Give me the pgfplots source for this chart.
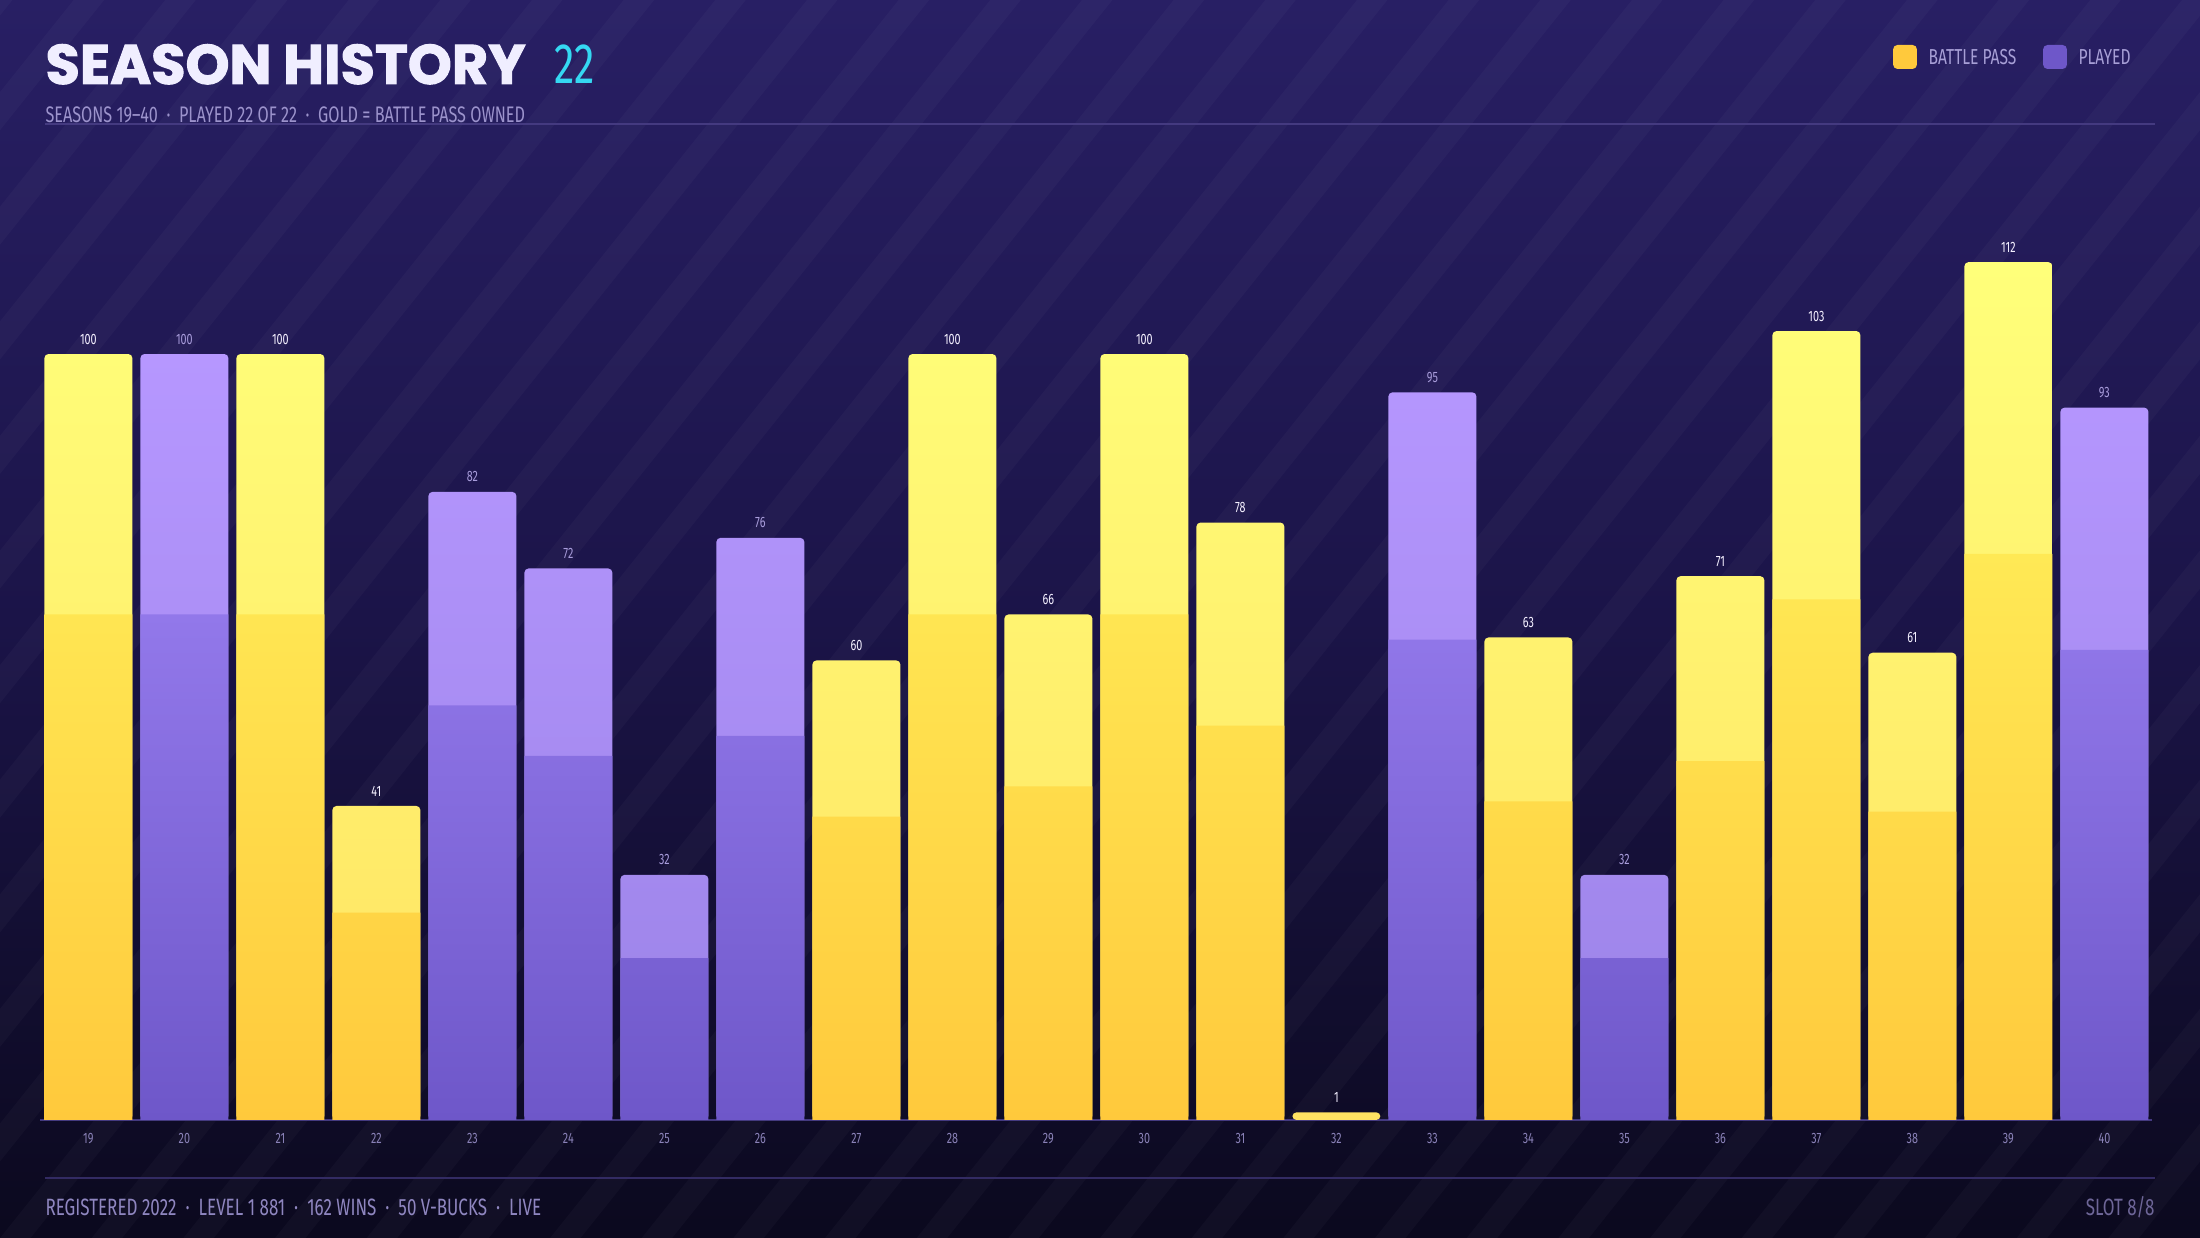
\documentclass[border=0pt]{standalone}
\usepackage{fontspec}
\setmainfont{Fira Sans}[FakeStretch=0.72]
\newfontfamily\titlefont{Poppins}[BoldFeatures={FakeBold=1.8}]
\usepackage{pgfplots}
\pgfplotsset{compat=1.18}
\definecolor{bgtop}{HTML}{281F64}
\definecolor{bgmid}{HTML}{1B1448}
\definecolor{bgbot}{HTML}{0B091E}
\definecolor{goldT}{HTML}{FFFF7A}
\definecolor{goldB}{HTML}{FFE262}
\definecolor{goldLT}{HTML}{FFE955}
\definecolor{goldLB}{HTML}{FFC93C}
\definecolor{purT}{HTML}{B697FF}
\definecolor{purB}{HTML}{9A82E6}
\definecolor{purLT}{HTML}{9278EA}
\definecolor{purLB}{HTML}{6E57C9}
\definecolor{titlec}{HTML}{F0EEFF}
\definecolor{cyanc}{HTML}{35D8F2}
\definecolor{subc}{HTML}{9C93CC}
\definecolor{tickc}{HTML}{8A82B8}
\definecolor{linec}{HTML}{443A80}
\definecolor{footc}{HTML}{8F86C0}
\definecolor{slotc}{HTML}{6E6698}
\definecolor{lblgold}{HTML}{F4F0FF}
\definecolor{lblpur}{HTML}{A89CDB}
\definecolor{legc}{HTML}{A79FD6}
\begin{document}
\begin{tikzpicture}
\useasboundingbox (0pt,0pt) rectangle (792pt,445.68pt);
\shade[top color=bgtop, bottom color=bgbot, middle color=bgmid] (0pt,0pt) rectangle (792pt,445.68pt);
\begin{scope}
\clip (0pt,0pt) rectangle (792pt,445.68pt);
\foreach \i in {-12,...,24} {
  \fill[white, opacity=0.028] (\i*33pt,0pt) -- ++(11pt,0pt) -- ++(356.5pt,445.68pt) -- ++(-11pt,0pt) -- cycle;
}
\end{scope}
% header
\node[anchor=base west, inner sep=0, text=titlec] at (16.2pt,415.44pt) {\titlefont\bfseries\fontsize{20.1}{22}\selectfont SEASON HISTORY};
\node[anchor=base west, inner sep=0, text=cyanc] at (199.4pt,415.44pt) {\fontsize{20.5}{22}\selectfont 22};
\node[anchor=base west, inner sep=0, text=subc] at (16.2pt,401.6pt) {\fontsize{8.1}{9}\selectfont SEASONS 19–40 \ · \ PLAYED 22 OF 22 \ · \ GOLD = BATTLE PASS OWNED};
\draw[linec, line width=0.5pt] (16.2pt,401.04pt) -- (775.8pt,401.04pt);
% legend
\fill[goldLB, rounded corners=1.6pt] (681.5pt,420.84pt) rectangle (690.1pt,429.48pt);
\node[anchor=base west, inner sep=0, text=legc] at (694.1pt,422.28pt) {\fontsize{7.8}{9}\selectfont BATTLE PASS};
\fill[purLB, rounded corners=1.6pt] (735.5pt,420.84pt) rectangle (744.1pt,429.48pt);
\node[anchor=base west, inner sep=0, text=legc] at (748.1pt,422.28pt) {\fontsize{7.8}{9}\selectfont PLAYED};
% footer
\draw[linec!70!bgbot, line width=0.5pt] (16.2pt,21.6pt) -- (775.8pt,21.6pt);
\node[anchor=base west, inner sep=0, text=footc] at (16.2pt,7.92pt) {\fontsize{8.5}{10}\selectfont REGISTERED 2022 \ · \ LEVEL 1 881 \ · \ 162 WINS \ · \ 50 V-BUCKS \ · \ LIVE};
\node[anchor=base east, inner sep=0, text=slotc] at (775.8pt,7.92pt) {\fontsize{8.5}{10}\selectfont SLOT 8/8};
\begin{axis}[
  at={(14.54pt,42.48pt)}, anchor=south west,
  scale only axis, width=760.32pt, height=330.9pt,
  xmin=18.5, xmax=40.5, ymin=0, ymax=120,
  axis y line=none, axis x line=bottom,
  x axis line style={draw=linec, line width=0.6pt, -},
  xtick={19,...,40}, major tick length=0pt,
  xticklabel style={font=\fontsize{5.4}{6}\selectfont, text=tickc, yshift=-1.3pt},
  /pgf/number format/assume math mode=true,
  clip=false,
  nodes near coords style={font=\fontsize{5.4}{6}\selectfont, anchor=south, yshift=0pt},
]
\addplot[ybar, bar width=0.917, bar shift=0pt, draw=none, top color=goldT, bottom color=goldB, rounded corners=1.5pt,
  nodes near coords, nodes near coords style={text=lblgold}]
  coordinates {(19,100) (21,100) (22,41) (27,60) (28,100) (29,66) (30,100) (31,78) (32,1) (34,63) (36,71) (37,103) (38,61) (39,112)};
\addplot[ybar, bar width=0.917, bar shift=0pt, draw=none, top color=goldLT, bottom color=goldLB]
  coordinates {(19,66) (21,66) (22,27.06) (27,39.6) (28,66) (29,43.56) (30,66) (31,51.48) (34,41.58) (36,46.86) (37,67.98) (38,40.26) (39,73.92)};
\addplot[ybar, bar width=0.917, bar shift=0pt, draw=none, top color=purT, bottom color=purB, rounded corners=1.5pt,
  nodes near coords, nodes near coords style={text=lblpur}]
  coordinates {(20,100) (23,82) (24,72) (25,32) (26,76) (33,95) (35,32) (40,93)};
\addplot[ybar, bar width=0.917, bar shift=0pt, draw=none, top color=purLT, bottom color=purLB]
  coordinates {(20,66) (23,54.12) (24,47.52) (25,21.12) (26,50.16) (33,62.7) (35,21.12) (40,61.38)};
\end{axis}
\end{tikzpicture}
\end{document}
